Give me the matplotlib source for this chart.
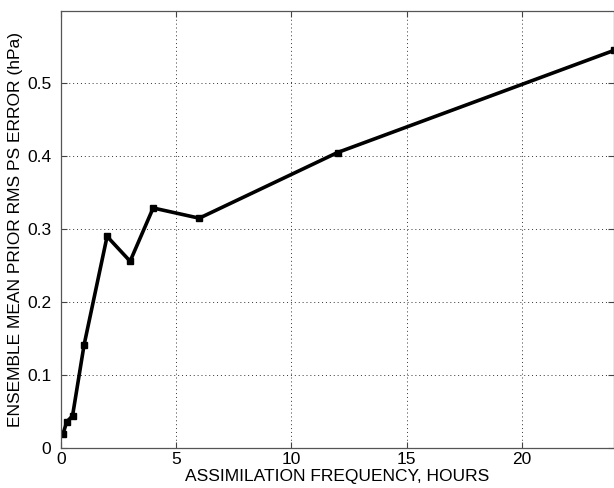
import numpy as np
import matplotlib.pyplot as plt

plt.rcParams['font.family'] = ['Liberation Sans', 'DejaVu Sans']

# assimilation frequency (hours) and ensemble mean prior rms ps error (hPa)
freq_hours = [0.083, 0.25, 0.5, 1, 2, 3, 4, 6, 12, 24]
rms_error = [0.019, 0.036, 0.044, 0.141, 0.290, 0.256, 0.329, 0.315, 0.405, 0.545]

xticks = [0, 5, 10, 15, 20]
yticks = [0, 0.1, 0.2, 0.3, 0.4, 0.5]

fig = plt.figure(figsize=(6.14, 4.88), dpi=100)
ax = fig.add_axes([61/614, 40/488, 553/614, 437/488])

ax.plot(freq_hours, rms_error, color='black', linewidth=2.6,
        marker='s', markersize=5, markerfacecolor='black', markeredgecolor='black')

ax.set_xlim(0, 24)
ax.set_ylim(0, 0.599)
ax.set_xticks(xticks)
ax.set_yticks(yticks)
ax.set_xticklabels([str(t) for t in xticks])
ax.set_yticklabels(['0', '0.1', '0.2', '0.3', '0.4', '0.5'])

ax.grid(True, linestyle=(0, (1, 3)), color='#333333', linewidth=0.7)
ax.tick_params(direction='in', length=4, width=0.8, labelsize=12.5, color='#444444',
               top=True, right=True)
ax.tick_params(axis='y', pad=7)
ax.tick_params(axis='x', pad=3)
for s in ax.spines.values():
    s.set_color('#555555')
    s.set_linewidth(0.9)

ax.set_xlabel('ASSIMILATION FREQUENCY, HOURS', fontsize=12.5, labelpad=1)
ax.set_ylabel('ENSEMBLE MEAN PRIOR RMS PS ERROR (hPa)', fontsize=12.5, labelpad=3)

fig.savefig('out.png', dpi=100)
